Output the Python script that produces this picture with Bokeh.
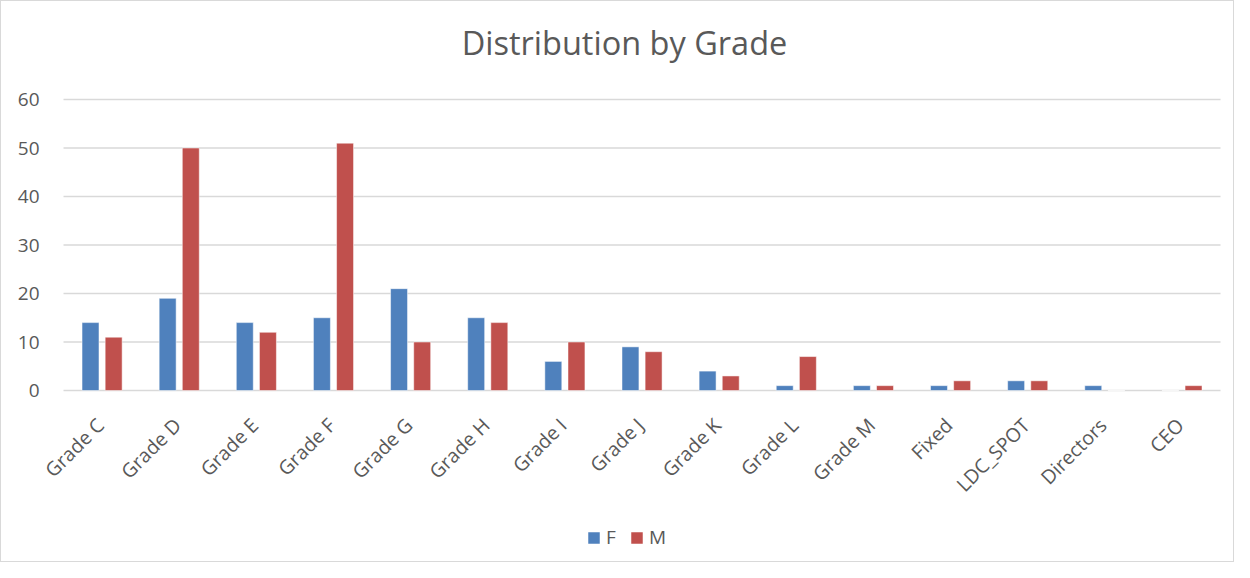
import math
from bokeh.plotting import figure
from bokeh.models import Range1d, Legend, LegendItem, Label, ColumnDataSource
from bokeh.core.properties import value
from bokeh.transform import dodge
from bokeh.embed import file_html
from bokeh.resources import INLINE

categories = ["Grade C", "Grade D", "Grade E", "Grade F", "Grade G", "Grade H", "Grade I",
              "Grade J", "Grade K", "Grade L", "Grade M", "Fixed", "LDC_SPOT", "Directors", "CEO"]
female = [14, 19, 14, 15, 21, 15, 6, 9, 4, 1, 1, 1, 2, 1, 0]
male = [11, 50, 12, 51, 10, 14, 10, 8, 3, 7, 1, 2, 2, 0, 1]
y_ticks = [0, 10, 20, 30, 40, 50, 60]
y_tick_labels = ["0", "10", "20", "30", "40", "50", "60"]

TXT = "#595959"
GRID = "#D9D9D9"
FONT = "Open Sans"

n = len(categories)
src = ColumnDataSource(dict(x=list(range(n)), cat=categories, F=female, M=male))
ticks_src = ColumnDataSource(dict(y=y_ticks, lab=y_tick_labels))

# the plotting frame covers the whole figure so that nothing gets clipped
p = figure(x_range=Range1d(-1.304, n - 1 + 0.694), y_range=Range1d(-35.67, 80.21),
           width=1234, height=562, output_backend="svg", toolbar_location=None,
           x_axis_location=None, y_axis_location=None,
           min_border_left=0, min_border_right=0, min_border_top=0, min_border_bottom=0)
p.outline_line_color = None
p.grid.visible = False

# horizontal value grid, spanning the category band
p.segment(x0=-0.5, x1=n - 0.5, y0="y", y1="y", source=ticks_src,
          line_color=GRID, line_width=1.5)

rf = p.vbar(x=dodge("x", -0.15), top="F", width=0.22, source=src,
            fill_color="#4F81BD", line_color="#FFFFFF", line_alpha=0.5, line_width=1)
rm = p.vbar(x=dodge("x", 0.15), top="M", width=0.22, source=src,
            fill_color="#C0504D", line_color="#FFFFFF", line_alpha=0.5, line_width=1)

# value axis labels
p.text(x=-0.5, y="y", text="lab", source=ticks_src, text_align="right", text_baseline="middle",
       x_offset=-24, text_font=value(FONT), text_font_size="19px", text_color=TXT)

# category labels, rotated 45 degrees below the zero line
p.text(x="x", y=0, text="cat", source=src, angle=math.pi / 4,
       text_align="right", text_baseline="middle", x_offset=-2, y_offset=31,
       text_font=value(FONT), text_font_size="19.5px", text_color=TXT)

title = Label(x=623, y=521, x_units="screen", y_units="screen", text="Distribution by Grade",
              text_font=FONT, text_font_size="32.5px", text_color=TXT,
              text_align="center", text_baseline="alphabetic")
p.add_layout(title)

legend = Legend(items=[LegendItem(label="F", renderers=[rf]), LegendItem(label="M", renderers=[rm])],
                orientation="horizontal", location=(585, 13),
                label_text_font=FONT, label_text_font_size="19px", label_text_color=TXT,
                glyph_width=15, glyph_height=15, label_width=10, border_line_color=None,
                background_fill_alpha=0, spacing=13, label_standoff=5, padding=0, margin=0)
p.add_layout(legend)

p.styles = {"border": "1px solid #D9D9D9"}

open("out.html", "w").write(file_html(p, INLINE))
